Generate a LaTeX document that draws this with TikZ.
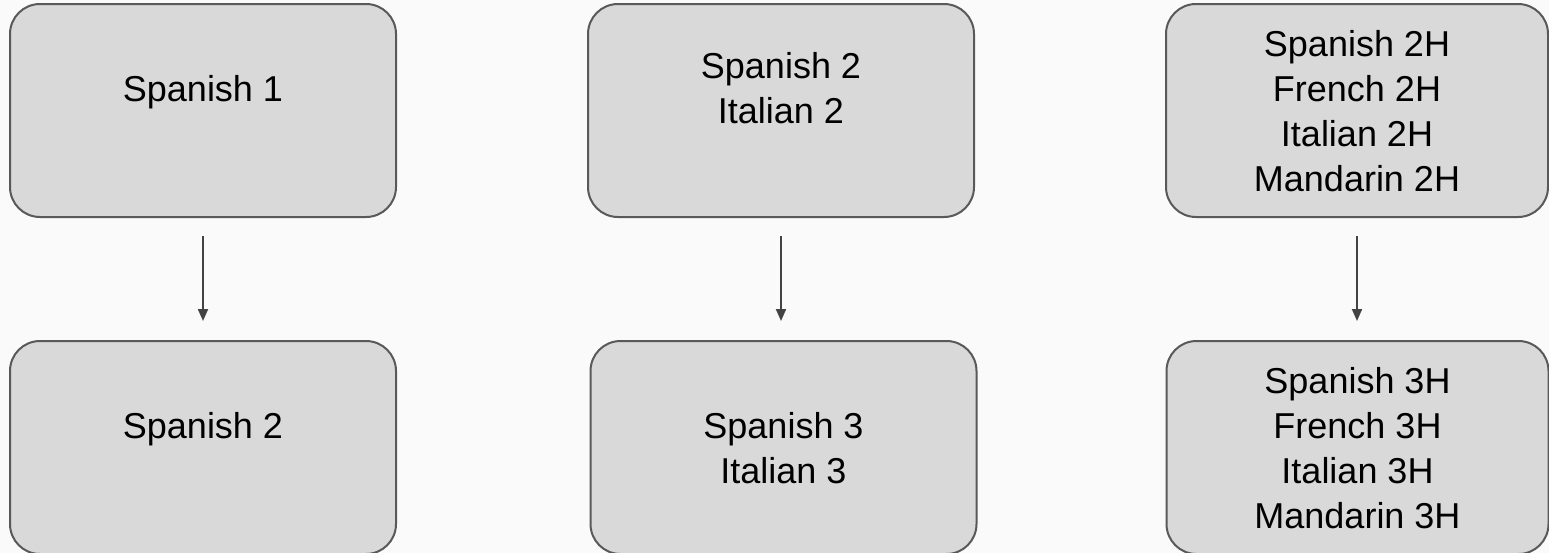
\documentclass[tikz,border=0pt]{standalone}
\usepackage{fontspec}
\setmainfont{Liberation Sans}
\usepackage{xcolor}
\usepackage{tikz}
\usetikzlibrary{arrows.meta}

\definecolor{boxfill}{HTML}{D9D9D9}
\definecolor{boxline}{HTML}{595959}
\definecolor{linkline}{HTML}{434343}
\definecolor{pagebg}{HTML}{FAFAFA}
\newcommand{\lstrut}{\rule[-7.1pt]{0pt}{33.75pt}}

\begin{document}
\begin{tikzpicture}[x=0.75pt, y=-0.75pt,
    every node/.style={draw=boxline, fill=boxfill, line width=1.5pt, rounded corners=22.5pt, minimum width=289.5pt, minimum height=159.75pt, inner sep=0pt, align=center, font=\fontsize{27}{33.75}\selectfont},
    link/.style={draw=linkline, line width=1.5pt, -{Triangle[width=7.5pt, length=9pt]}, shorten <=13.5pt, shorten >=14.25pt}]
    \fill[pagebg] (0,0) rectangle (1549,553);
    \useasboundingbox (0,0) rectangle (1549,553);

    \node (A) at (203, 110.5) {Spanish 1\lstrut\\\lstrut};
    \node (B) at (781, 110.5) {Spanish 2\lstrut\\Italian 2\lstrut\\\lstrut};
    \node[minimum width=286.5pt] (C) at (1357, 110.5) {Spanish 2H\lstrut\\French 2H\lstrut\\Italian 2H\lstrut\\Mandarin 2H\lstrut};
    \node (D) at (203, 447.5) {Spanish 2\lstrut\\\lstrut};
    \node (E) at (783.5, 447.5) {Spanish 3\lstrut\\Italian 3\lstrut};
    \node[minimum width=286.5pt] (F) at (1357.5, 447.5) {Spanish 3H\lstrut\\French 3H\lstrut\\Italian 3H\lstrut\\Mandarin 3H\lstrut};

    \draw[link] (A.south) -- (A.south |- D.north);
    \draw[link] (B.south) -- (B.south |- E.north);
    \draw[link] (C.south) -- (C.south |- F.north);
\end{tikzpicture}
\end{document}
